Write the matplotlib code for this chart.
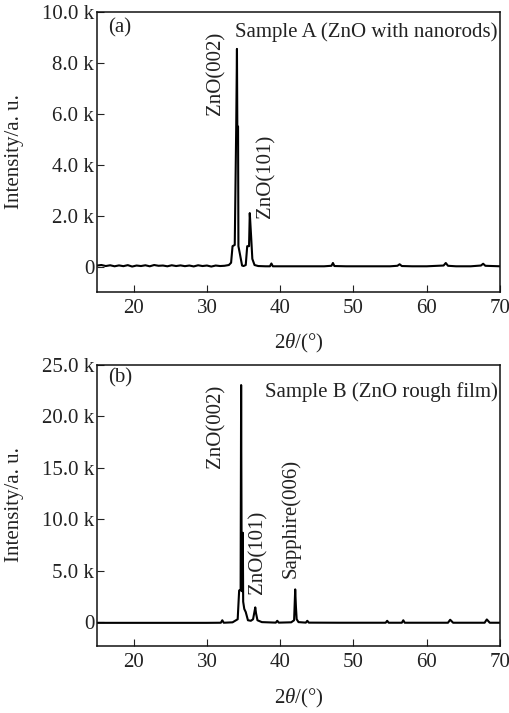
import matplotlib
matplotlib.use("Agg")
import matplotlib.pyplot as plt

plt.rcParams['font.family'] = ['Liberation Serif', 'DejaVu Serif']
plt.rcParams['mathtext.fontset'] = 'custom'
plt.rcParams['mathtext.rm'] = 'Liberation Serif'
plt.rcParams['mathtext.it'] = 'Liberation Serif:italic'

# ---------------- data ----------------
# Sample A (ZnO with nanorods): 2theta (deg) and intensity (counts)
two_theta_a = [15.0, 15.6, 16.2, 16.8, 17.4, 18.0, 18.6, 19.2, 19.8, 20.4, 21.0, 21.6,
               22.2, 22.8, 23.4, 24.0, 24.6, 25.2, 25.8, 26.4, 27.0, 27.6, 28.2, 28.8,
               29.4, 30.0, 30.6, 31.2, 31.8, 32.4, 33.0, 33.3, 33.5, 33.8, 34.0, 34.1,
               34.15, 34.25, 34.3, 34.5, 34.8, 35.0, 35.3, 35.5, 35.75, 35.85, 35.95,
               36.05, 36.2, 36.5, 37.0, 38.0, 38.6, 38.8, 39.0, 40.0, 42.0, 44.0, 46.0,
               47.0, 47.2, 47.4, 49.0, 52.0, 55.0, 56.0, 56.3, 56.6, 58.0, 60.0, 62.3,
               62.6, 62.9, 64.0, 66.0, 67.4, 67.7, 68.0, 70.0]
intensity_a = [40, 60, 20, 50, 10, 45, 15, 55, 0, 40, 20, 50, 10, 60, 30, 40, 10, 50,
               20, 45, 15, 40, 5, 50, 20, 40, 0, 40, 20, 30, 60, 150, 800, 850, 5500,
               8550, 5500, 5500, 800, 500, 40, 20, 60, 800, 800, 2100, 1600, 1100, 300,
               60, 20, 10, 10, 120, 10, 10, 10, 10, 10, 30, 140, 20, 10, 10, 10, 30, 90,
               20, 10, 10, 40, 140, 30, 10, 10, 40, 110, 30, 10]

# Sample B (ZnO rough film)
two_theta_b = [15.0, 20.0, 25.0, 30.0, 31.9, 32.1, 32.3, 33.5, 34.2, 34.4, 34.6, 34.67,
               34.75, 34.85, 34.9, 34.95, 35.1, 35.3, 35.6, 36.0, 36.3, 36.6, 36.7,
               36.9, 37.5, 39.4, 39.6, 39.8, 41.5, 41.9, 42.05, 42.15, 42.25, 42.5,
               43.5, 43.7, 43.9, 48.0, 54.4, 54.6, 54.8, 56.6, 56.8, 57.0, 62.9, 63.2,
               63.6, 67.9, 68.2, 68.6, 70.0]
intensity_b = [-50, -50, -50, -50, -40, 200, -40, 0, 300, 3100, 3100, 23050, 3100, 3000,
               8700, 2000, 1300, 1000, 200, 150, 300, 1450, 900, 200, 20, -30, 150, -30,
               0, 200, 3200, 1500, 300, 20, -30, 150, -30, -40, -40, 150, -40, -40, 200,
               -40, -40, 250, -40, -40, 280, -40, -40]

y_ticks_a = [0, 2000, 4000, 6000, 8000, 10000]
y_ticklabels_a = ['0', '2.0 k', '4.0 k', '6.0 k', '8.0 k', '10.0 k']
y_ticks_b = [0, 5000, 10000, 15000, 20000, 25000]
y_ticklabels_b = ['0', '5.0 k', '10.0 k', '15.0 k', '20.0 k', '25.0 k']
x_ticks = [20, 30, 40, 50, 60, 70]

# peak labels: (text, x, y) – bottom end of rotated text
peaks_a = [('ZnO(002)', 31.2, 5950), ('ZnO(101)', 38.05, 1900)]
peaks_b = [('ZnO(002)', 31.2, 15000), ('ZnO(101)', 36.95, 2800),
           ('Sapphire(006)', 41.5, 4300)]

# ---------------- figure ----------------
W, H = 509, 713
fig = plt.figure(figsize=(W / 100, H / 100), dpi=100)
FS = 15
TC = '#222222'

def setup(ax, yticks, ylabels, ylim):
    ax.set_xlim(15, 70)
    ax.set_ylim(*ylim)
    ax.set_xticks(x_ticks)
    ax.set_xticklabels([str(t) for t in x_ticks])
    ax.set_yticks(yticks)
    ax.set_yticklabels(ylabels)
    ax.tick_params(axis='x', direction='in', length=5, width=0.8, labelsize=FS,
                   pad=5, colors=TC)
    ax.tick_params(axis='y', direction='in', length=5, width=0.8, labelsize=FS,
                   pad=2, colors=TC)
    for s in ax.spines.values():
        s.set_linewidth(1.1)
        s.set_color('#111111')

ax1 = fig.add_axes([97 / W, 1 - 292 / H, 403 / W, 280 / H])
ax1.plot(two_theta_a, intensity_a, color='black', lw=1.5)
setup(ax1, y_ticks_a, y_ticklabels_a, (-1000, 10000))
ax1.text(0.027, 0.943, '(a)', transform=ax1.transAxes, fontsize=FS, ha='left',
         va='center', color=TC)
ax1.text(0.993, 0.929, 'Sample A (ZnO with nanorods)', transform=ax1.transAxes,
         fontsize=FS, ha='right', va='center', color=TC)
for txt, x, y in peaks_a:
    ax1.text(x, y, txt, rotation=90, ha='center', va='bottom', fontsize=FS,
             color=TC)

ax2 = fig.add_axes([97 / W, 1 - 646 / H, 403 / W, 281 / H])
ax2.plot(two_theta_b, intensity_b, color='black', lw=1.5)
setup(ax2, y_ticks_b, y_ticklabels_b, (-2300, 25000))
ax2.text(0.027, 0.954, '(b)', transform=ax2.transAxes, fontsize=FS, ha='left',
         va='center', color=TC)
ax2.text(0.995, 0.904, 'Sample B (ZnO rough film)', transform=ax2.transAxes,
         fontsize=FS, ha='right', va='center', color=TC)
for txt, x, y in peaks_b:
    ax2.text(x, y, txt, rotation=90, ha='center', va='bottom', fontsize=FS,
             color=TC)

# axis titles
for yc in (152, 505):
    fig.text(15 / W, 1 - yc / H, 'Intensity/a. u.', rotation=90, ha='center',
             va='center', fontsize=FS, color=TC)
for yc in (343, 698):
    fig.text(299 / W, 1 - yc / H, r'2$\mathit{\theta}$/(°)', ha='center',
             va='center', fontsize=FS, color=TC)

fig.savefig('out.png', dpi=100)
